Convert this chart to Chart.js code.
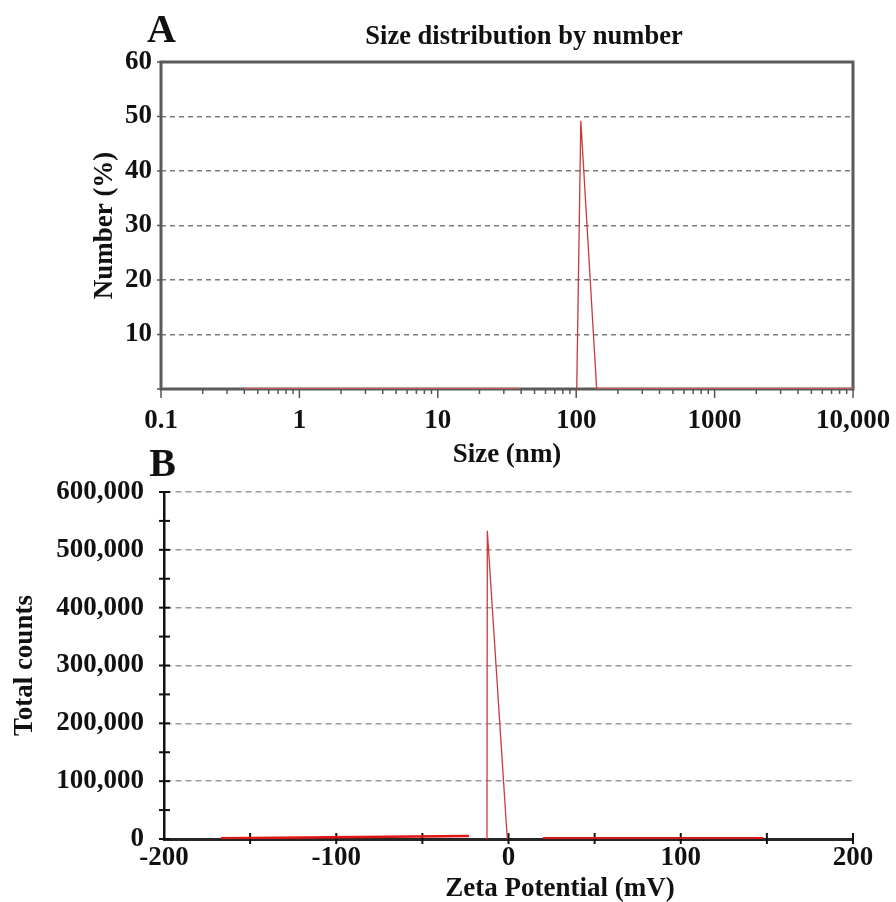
<!DOCTYPE html>
<html><head><meta charset="utf-8">
<script src="https://cdn.jsdelivr.net/npm/chart.js@4.4.0/dist/chart.umd.min.js"></script>
<style>
html,body{margin:0;padding:0;background:#fff;}
#wrap{position:relative;width:896px;height:902px;}
canvas{position:absolute;left:0;top:0;}
</style></head><body>
<div id="wrap">
<canvas id="cA" width="896" height="902"></canvas>
<canvas id="cB" width="896" height="902"></canvas>
</div>
<script>
// ---------- Panel A data ----------
const sizeTickValues = [0.1, 1, 10, 100, 1000, 10000];
const sizeTickLabels = ['0.1', '1', '10', '100', '1000', '10,000'];
const sizeMinorMultipliers = [2, 3, 4, 5, 6, 7, 8, 9];
const sizeBaselineNm = [0.4, 39, 70, 141, 10000];
const sizeBaselinePct = [0, 0, null, 0, 0];
const sizePeakNm = [100.9, 108, 140.6];
const sizePeakPct = [0, 49.2, 0];
const numberTickValues = [0, 10, 20, 30, 40, 50, 60];

// ---------- Panel B data ----------
const zetaTickValues = [-200, -150, -100, -50, 0, 50, 100, 150, 200];
const zetaTickLabels = ['-200', '', '-100', '', '0', '', '100', '', '200'];
const zetaBaselineMv = [-167, -23, -18, 20, 148];
const zetaBaselineCounts = [1200, 5000, null, 1500, 1500];
const zetaPeakMv = [-12.5, -12.3, -0.7];
const zetaPeakCounts = [0, 533000, 0];
const countsTickStep = 50000;

const FONT = "'Liberation Serif', 'Times New Roman', serif";
const bold = (size) => ({ family: FONT, size: size, weight: 'bold' });
const pts = (xs, ys) => xs.map((x, i) => ({ x: x, y: ys[i] }));
const noSidePad = (scale) => { scale.paddingLeft = 0; scale.paddingRight = 0; };

// ---------- Panel A ----------
const plugA = {
  id: 'plugA',
  beforeDatasetsDraw(chart) {
    const { ctx, chartArea: ca, scales } = chart;
    ctx.save();
    ctx.strokeStyle = '#5a5a5a';
    ctx.lineWidth = 3;
    ctx.strokeRect(ca.left, ca.top, ca.right - ca.left, ca.bottom - ca.top);
    ctx.lineWidth = 1.5;
    ctx.strokeStyle = '#555';
    scales.x.ticks.forEach(t => {
      const px = scales.x.getPixelForValue(t.value);
      const len = t.major ? 9 : 5;
      ctx.beginPath();
      ctx.moveTo(px, ca.bottom);
      ctx.lineTo(px, ca.bottom + len);
      ctx.stroke();
    });
    numberTickValues.forEach(v => {
      const py = scales.y.getPixelForValue(v);
      ctx.beginPath();
      ctx.moveTo(ca.left - 4, py);
      ctx.lineTo(ca.left, py);
      ctx.stroke();
    });
    ctx.restore();
  },
  afterDraw(chart) {
    const { ctx, chartArea: ca } = chart;
    ctx.save();
    ctx.fillStyle = '#111';
    ctx.font = "bold 40px " + FONT;
    ctx.textAlign = 'center';
    ctx.textBaseline = 'alphabetic';
    ctx.fillText('A', ca.left + 0.5, ca.top - 20);
    ctx.font = "bold 26.5px " + FONT;
    ctx.fillText('Size distribution by number', ca.left + 363, ca.top - 18);
    ctx.restore();
  }
};

new Chart(document.getElementById('cA'), {
  type: 'line',
  data: {
    datasets: [
      {
        label: 'baseline',
        data: pts(sizeBaselineNm, sizeBaselinePct),
        borderColor: 'rgba(226,92,92,0.8)',
        borderWidth: 2.5,
        pointRadius: 0,
        spanGaps: false,
        tension: 0
      },
      {
        label: 'Number (%)',
        data: pts(sizePeakNm, sizePeakPct),
        borderColor: '#c83a3e',
        borderWidth: 1.3,
        pointRadius: 0,
        tension: 0
      }
    ]
  },
  options: {
    responsive: false,
    animation: false,
    devicePixelRatio: 1,
    layout: { padding: { left: 0, right: 43, top: 62, bottom: 423 } },
    plugins: { legend: { display: false }, tooltip: { enabled: false }, title: { display: false } },
    scales: {
      x: {
        type: 'logarithmic',
        min: 0.1,
        max: 10000,
        afterBuildTicks(scale) {
          const ticks = [];
          sizeTickValues.forEach((d, i) => {
            ticks.push({ value: d, major: true });
            if (i < sizeTickValues.length - 1) {
              sizeMinorMultipliers.forEach(m => ticks.push({ value: d * m, major: false }));
            }
          });
          scale.ticks = ticks;
        },
        afterFit(scale) { scale.height = 90; noSidePad(scale); },
        grid: { display: true, drawOnChartArea: false, drawTicks: false, color: 'rgba(0,0,0,0)' },
        border: { display: false },
        ticks: {
          autoSkip: false,
          maxRotation: 0,
          minRotation: 0,
          padding: 16,
          color: '#111',
          font: bold(27),
          callback(v) {
            const i = sizeTickValues.indexOf(v);
            return i >= 0 ? sizeTickLabels[i] : '';
          }
        },
        title: { display: true, text: 'Size (nm)', color: '#111', font: bold(27), padding: { top: 0, bottom: 8 } }
      },
      y: {
        min: 0,
        max: 60,
        afterBuildTicks(scale) { scale.ticks = numberTickValues.map(v => ({ value: v })); },
        afterFit(scale) { scale.width = 161; },
        grid: {
          color: (c) => (c.tick && c.tick.value > 0 && c.tick.value < 60) ? '#7a7a7a' : 'rgba(0,0,0,0)',
          lineWidth: 1.5,
          drawTicks: false
        },
        border: { display: false, dash: [5, 4] },
        ticks: {
          padding: 9,
          color: '#111',
          font: bold(27),
          callback(v) { return v === 0 ? '' : String(v); }
        },
        title: { display: true, text: 'Number (%)', color: '#111', font: bold(27), padding: { top: 89, bottom: 0 } }
      }
    }
  },
  plugins: [plugA]
});

// ---------- Panel B ----------
const plugB = {
  id: 'plugB',
  beforeDatasetsDraw(chart) {
    const { ctx, chartArea: ca, scales } = chart;
    ctx.save();
    ctx.strokeStyle = '#111';
    ctx.lineWidth = 2;
    scales.x.ticks.forEach(t => {
      const px = scales.x.getPixelForValue(t.value);
      if (t.value === -200) return;
      ctx.beginPath();
      ctx.moveTo(px, ca.bottom - 6);
      ctx.lineTo(px, ca.bottom + 5);
      ctx.stroke();
    });
    scales.y.ticks.forEach(t => {
      const py = scales.y.getPixelForValue(t.value);
      ctx.beginPath();
      ctx.moveTo(ca.left - 5, py);
      ctx.lineTo(ca.left + 6, py);
      ctx.stroke();
    });
    ctx.restore();
  },
  afterDraw(chart) {
    const { ctx, chartArea: ca } = chart;
    ctx.save();
    ctx.fillStyle = '#111';
    ctx.textAlign = 'center';
    ctx.textBaseline = 'alphabetic';
    ctx.font = "bold 40px " + FONT;
    ctx.fillText('B', ca.left - 1.5, ca.top - 16);
    ctx.font = "bold 27px " + FONT;
    ctx.fillText('Zeta Potential (mV)', ca.left + 396, ca.bottom + 57);
    ctx.restore();
  }
};

new Chart(document.getElementById('cB'), {
  type: 'line',
  data: {
    datasets: [
      {
        label: 'baseline',
        data: pts(zetaBaselineMv, zetaBaselineCounts),
        borderColor: '#e01515',
        borderWidth: 2.5,
        pointRadius: 0,
        spanGaps: false,
        tension: 0
      },
      {
        label: 'Total counts',
        data: pts(zetaPeakMv, zetaPeakCounts),
        borderColor: '#cc3a3e',
        borderWidth: 1.3,
        pointRadius: 0,
        tension: 0
      }
    ]
  },
  options: {
    responsive: false,
    animation: false,
    devicePixelRatio: 1,
    layout: { padding: { left: 0, right: 43, top: 492, bottom: 0 } },
    plugins: { legend: { display: false }, tooltip: { enabled: false }, title: { display: false } },
    scales: {
      x: {
        type: 'linear',
        min: -200,
        max: 200,
        afterBuildTicks(scale) { scale.ticks = zetaTickValues.map(v => ({ value: v })); },
        afterFit(scale) { scale.height = 63; noSidePad(scale); },
        grid: { display: true, drawOnChartArea: false, drawTicks: false, color: 'rgba(0,0,0,0)' },
        border: { display: true, color: '#262626', width: 3 },
        ticks: {
          autoSkip: false,
          maxRotation: 0,
          minRotation: 0,
          padding: 3,
          color: '#111',
          font: bold(27),
          callback(v, i) { return zetaTickLabels[i]; }
        },
        title: { display: false }
      },
      y: {
        min: 0,
        max: 600000,
        ticks: {
          stepSize: countsTickStep,
          autoSkip: false,
          padding: 20,
          color: '#111',
          font: bold(27),
          callback(v) { return v % 100000 === 0 ? v.toLocaleString('en-US') : ''; }
        },
        afterFit(scale) { scale.width = 164; },
        grid: {
          color: (c) => (c.tick && c.tick.value > 0 && c.tick.value % 100000 === 0) ? '#9a9a9a' : 'rgba(0,0,0,0)',
          lineWidth: 1.6,
          drawTicks: false
        },
        border: { display: true, color: '#111', width: 2.5, dash: [6, 4] },
        title: { display: true, text: 'Total counts', color: '#111', font: bold(27), padding: { top: 9, bottom: 0 } }
      }
    }
  },
  plugins: [plugB]
});
</script>
</body></html>
